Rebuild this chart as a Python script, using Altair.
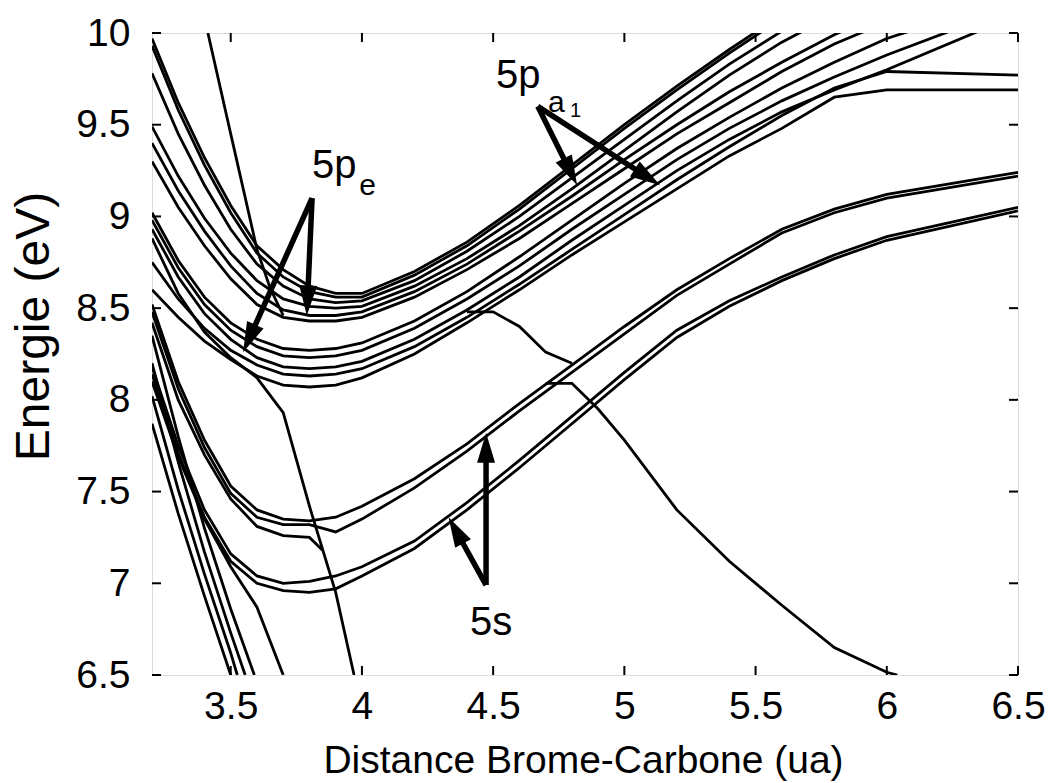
import math
import altair as alt
import pandas as pd

# ---------------------------------------------------------------------------
# Potential energy curves of CH3Br (Rydberg states and repulsive states)
# ---------------------------------------------------------------------------
W, H = 866, 642
R_MIN, R_MAX = 3.2, 6.5
E_MIN, E_MAX = 6.5, 10.0
FONT = "Liberation Sans"

# Bond-length grid (ua) shared by the Rydberg curves
R_GRID = [3.2, 3.3, 3.4, 3.5, 3.6, 3.7, 3.8, 3.9, 4.0, 4.2,
          4.4, 4.6, 4.8, 5.0, 5.2, 5.4, 5.6, 5.8, 6.0, 6.5]

# 5p upper bundle (eV)
U1 = [9.97, 9.62, 9.32, 9.06, 8.84, 8.71, 8.62, 8.58, 8.58, 8.70, 8.86, 9.06, 9.28, 9.50, 9.71, 9.91, 10.10, 10.28, 10.45, 10.8]
U2 = [9.93, 9.58, 9.28, 9.02, 8.80, 8.67, 8.59, 8.56, 8.56, 8.68, 8.84, 9.04, 9.26, 9.48, 9.69, 9.89, 10.08, 10.26, 10.43, 10.8]
U3 = [9.78, 9.45, 9.17, 8.93, 8.74, 8.62, 8.55, 8.53, 8.54, 8.65, 8.81, 9.00, 9.21, 9.42, 9.63, 9.83, 10.01, 10.18, 10.35, 10.7]
U4 = [9.49, 9.22, 8.99, 8.80, 8.65, 8.55, 8.51, 8.50, 8.51, 8.62, 8.77, 8.95, 9.15, 9.36, 9.57, 9.77, 9.95, 10.10, 10.25, 10.6]
U5 = [9.40, 9.14, 8.92, 8.73, 8.58, 8.49, 8.46, 8.46, 8.48, 8.59, 8.74, 8.92, 9.11, 9.31, 9.50, 9.68, 9.84, 9.99, 10.12, 10.4]
U6 = [9.30, 9.05, 8.84, 8.66, 8.52, 8.45, 8.43, 8.43, 8.45, 8.56, 8.71, 8.88, 9.07, 9.26, 9.45, 9.62, 9.79, 9.94, 10.06, 10.3]

# 5p lower bundle (eV)
M1 = [9.02, 8.76, 8.56, 8.42, 8.33, 8.28, 8.27, 8.28, 8.31, 8.43, 8.59, 8.78, 8.98, 9.18, 9.37, 9.54, 9.70, 9.84, 9.97, 10.2]
M2 = [8.98, 8.72, 8.52, 8.38, 8.29, 8.24, 8.23, 8.24, 8.27, 8.39, 8.55, 8.73, 8.93, 9.12, 9.31, 9.48, 9.63, 9.76, 9.88, 10.15]
M3 = [8.93, 8.67, 8.47, 8.33, 8.23, 8.18, 8.17, 8.18, 8.21, 8.33, 8.49, 8.67, 8.87, 9.06, 9.25, 9.42, 9.57, 9.69, 9.80, 10.1]
M4 = [8.75, 8.55, 8.39, 8.27, 8.19, 8.14, 8.13, 8.14, 8.17, 8.29, 8.45, 8.63, 8.82, 9.01, 9.20, 9.38, 9.55, 9.70, 9.79, 9.77]
M5 = [8.60, 8.45, 8.32, 8.22, 8.13, 8.08, 8.07, 8.08, 8.12, 8.25, 8.42, 8.60, 8.79, 8.97, 9.15, 9.33, 9.48, 9.65, 9.69, 9.69]

# 5s curves (eV)
A1 = [8.52, 8.10, 7.78, 7.53, 7.40, 7.35, 7.34, 7.36, 7.42, 7.57, 7.76, 7.98, 8.19, 8.40, 8.60, 8.77, 8.93, 9.04, 9.12, 9.24]
A2 = [8.48, 8.06, 7.74, 7.49, 7.36, 7.32, 7.32, 7.28, 7.35, 7.52, 7.72, 7.94, 8.15, 8.36, 8.57, 8.74, 8.91, 9.02, 9.10, 9.22]
B1 = [8.18, 7.75, 7.40, 7.16, 7.04, 7.00, 7.01, 7.04, 7.09, 7.23, 7.44, 7.67, 7.91, 8.15, 8.38, 8.54, 8.67, 8.79, 8.89, 9.05]
B2 = [8.14, 7.71, 7.36, 7.12, 7.00, 6.96, 6.95, 6.97, 7.04, 7.19, 7.40, 7.63, 7.87, 8.11, 8.34, 8.51, 8.65, 8.77, 8.87, 9.03]

# Curves with their own abscissae: repulsive branches and avoided crossings
S1_R = [3.413, 3.5, 3.6, 3.65, 3.7]
S1_E = [10.0, 9.45, 8.82, 8.61, 8.46]
D_R = [3.2, 3.3, 3.4, 3.5, 3.6, 3.7, 3.8, 3.9, 3.97]
D_E = [8.88, 8.58, 8.37, 8.23, 8.12, 7.93, 7.42, 6.95, 6.50]
A3_R = [3.2, 3.3, 3.4, 3.5, 3.6, 3.7, 3.8, 3.85]
A3_E = [8.42, 8.00, 7.70, 7.46, 7.31, 7.26, 7.25, 7.18]
R1_R = [3.2, 3.3, 3.4, 3.5]
R1_E = [7.87, 7.38, 6.93, 6.50]
R2_R = [3.2, 3.3, 3.4, 3.5, 3.525]
R2_E = [8.02, 7.51, 7.05, 6.62, 6.50]
R3_R = [3.2, 3.3, 3.4, 3.5, 3.555]
R3_E = [8.20, 7.66, 7.17, 6.73, 6.50]
R4_R = [3.2, 3.3, 3.4, 3.5, 3.59]
R4_E = [8.35, 7.80, 7.30, 6.86, 6.50]
R5_R = [3.2, 3.3, 3.4, 3.5, 3.6, 3.7]
R5_E = [8.10, 7.69, 7.35, 7.09, 6.87, 6.50]
P_R = [4.7, 4.8, 4.9, 5.0, 5.2, 5.4, 5.6, 5.8, 6.0, 6.04]
P_E = [8.09, 8.09, 7.95, 7.78, 7.40, 7.12, 6.88, 6.65, 6.515, 6.50]
Q_R = [4.4, 4.5, 4.6, 4.7, 4.8]
Q_E = [8.48, 8.48, 8.40, 8.26, 8.20]

GRID_CURVES = {"U1": U1, "U2": U2, "U3": U3, "U4": U4, "U5": U5, "U6": U6,
               "M1": M1, "M2": M2, "M3": M3, "M4": M4, "M5": M5,
               "A1": A1, "A2": A2, "B1": B1, "B2": B2}
FREE_CURVES = {"S1": (S1_R, S1_E), "D": (D_R, D_E), "A3": (A3_R, A3_E),
               "R1": (R1_R, R1_E), "R2": (R2_R, R2_E), "R3": (R3_R, R3_E),
               "R4": (R4_R, R4_E), "R5": (R5_R, R5_E),
               "P": (P_R, P_E), "Q": (Q_R, Q_E)}

# Annotation arrows: tail and tip in data coordinates
ARROW_TAIL_R = [3.81, 3.81, 4.67, 4.67, 4.473, 4.473]
ARROW_TAIL_E = [9.10, 9.10, 9.60, 9.60, 6.99, 6.99]
ARROW_TIP_R = [3.547, 3.79, 4.82, 5.136, 4.473, 4.33]
ARROW_TIP_E = [8.26, 8.46, 9.17, 9.17, 7.82, 7.36]

# Annotation text pieces (label, left edge, baseline, font size)
LABEL_TEXT = ["5p", "e", "5p", "a", "1", "5s"]
LABEL_R = [3.81, 3.99, 4.511, 4.709, 4.793, 4.412]
LABEL_E = [9.21, 9.117, 9.70, 9.57, 9.54, 6.717]
LABEL_SIZE = [40, 30, 40, 30, 20, 40]

X_TICKS = [3.5, 4.0, 4.5, 5.0, 5.5, 6.0, 6.5]
Y_TICKS = [6.5, 7.0, 7.5, 8.0, 8.5, 9.0, 9.5, 10.0]

# ---------------------------------------------------------------------------
rows = []
for name, es in GRID_CURVES.items():
    for k, (r, e) in enumerate(zip(R_GRID, es)):
        rows.append({"curve": name, "k": k, "r": r, "e": e})
for name, (rs, es) in FREE_CURVES.items():
    for k, (r, e) in enumerate(zip(rs, es)):
        rows.append({"curve": name, "k": k, "r": r, "e": e})
curves = pd.DataFrame(rows)

px_per_r = W / (R_MAX - R_MIN)
px_per_e = H / (E_MAX - E_MIN)
HEAD_R = 15  # half-length of the arrow head in pixels
arrow_rows = []
for r0, e0, r1, e1 in zip(ARROW_TAIL_R, ARROW_TAIL_E, ARROW_TIP_R, ARROW_TIP_E):
    dx = (r1 - r0) * px_per_r
    dy = -(e1 - e0) * px_per_e  # screen y grows downward
    length = math.hypot(dx, dy)
    ux, uy = dx / length, dy / length
    back = 1.6 * HEAD_R
    arrow_rows.append({
        "r": r0, "e": e0,
        "r1": r1 - ux * back / px_per_r,
        "e1": e1 + uy * back / px_per_e,
        "rt": r1, "et": e1,
        "ang": math.degrees(math.atan2(dx, -dy)) % 360,
    })
arrows = pd.DataFrame(arrow_rows)

labels = pd.DataFrame({"t": LABEL_TEXT, "r": LABEL_R, "e": LABEL_E, "fs": LABEL_SIZE})

x_scale = alt.Scale(domain=[R_MIN, R_MAX], nice=False, zero=False)
y_scale = alt.Scale(domain=[E_MIN, E_MAX], nice=False, zero=False)

X_TITLE = "Distance Brome-Carbone (ua)"
Y_TITLE = "Energie (eV)"
x_axis = alt.Axis(values=X_TICKS, format="~g", ticks=False, tickSize=0, domain=False, grid=False,
                  labelFont=FONT, labelFontSize=39, labelColor="black", labelPadding=12,
                  labelFlush=False, labelOverlap=False,
                  title=X_TITLE, titleFont=FONT, titleFontSize=39,
                  titleFontWeight="normal", titleColor="black",
                  titleBaseline="alphabetic", titleX=W / 2 - 2, titleY=97)
y_axis = alt.Axis(values=Y_TICKS, format="~g", ticks=False, tickSize=0, domain=False, grid=False,
                  labelFont=FONT, labelFontSize=39, labelColor="black", labelPadding=22,
                  labelFlush=False, labelOverlap=False,
                  title=Y_TITLE, titleFont=FONT, titleFontSize=48,
                  titleFontWeight="normal", titleColor="black", titleAngle=-90,
                  titleAlign="center", titleBaseline="alphabetic", titleX=-104, titleY=293)


def xenc(field):
    return alt.X(field, type="quantitative", scale=x_scale, axis=x_axis, title=X_TITLE)


def yenc(field):
    return alt.Y(field, type="quantitative", scale=y_scale, axis=y_axis, title=Y_TITLE)


lines = alt.Chart(curves).mark_line(color="black", strokeWidth=2.8, clip=True).encode(
    x=xenc("r"), y=yenc("e"), detail="curve:N", order="k:Q",
)

shafts = alt.Chart(arrows).mark_rule(color="black", strokeWidth=5.5).encode(
    x=xenc("r"), y=yenc("e"), x2="r1:Q", y2="e1:Q",
)

HEAD_PATH = "M0,0L0.6,2L-0.6,2Z"
heads = alt.Chart(arrows).mark_point(
    shape=HEAD_PATH, filled=True, color="black", opacity=1, size=(2 * HEAD_R) ** 2, strokeWidth=0
).encode(
    x=xenc("rt"), y=yenc("et"), angle=alt.Angle("ang:Q", scale=None),
)

texts = alt.Chart(labels).mark_text(align="left", baseline="alphabetic", font=FONT, color="black").encode(
    x=xenc("r"), y=yenc("e"), text="t:N", size=alt.Size("fs:Q", scale=None),
)

TICK = 9
xt = pd.DataFrame({"r": X_TICKS})
yt = pd.DataFrame({"e": Y_TICKS})
tick_bottom = alt.Chart(xt).mark_rule(color="black", strokeWidth=2).encode(
    x=xenc("r"), y=alt.value(H), y2=alt.value(H - TICK))
tick_top = alt.Chart(xt).mark_rule(color="black", strokeWidth=2).encode(
    x=xenc("r"), y=alt.value(0), y2=alt.value(TICK))
tick_left = alt.Chart(yt).mark_rule(color="black", strokeWidth=2).encode(
    y=yenc("e"), x=alt.value(0), x2=alt.value(TICK))
tick_right = alt.Chart(yt).mark_rule(color="black", strokeWidth=2).encode(
    y=yenc("e"), x=alt.value(W), x2=alt.value(W - TICK))

chart = alt.layer(
    lines, tick_bottom, tick_top, tick_left, tick_right, shafts, heads, texts
).properties(
    width=W, height=H,
    autosize="none",
    padding={"left": 152, "top": 33, "right": 40, "bottom": 108},
).configure_view(
    stroke="black", strokeWidth=3
).configure(background="white")

chart.save("out.html", embed_options={"renderer": "svg", "actions": False})
